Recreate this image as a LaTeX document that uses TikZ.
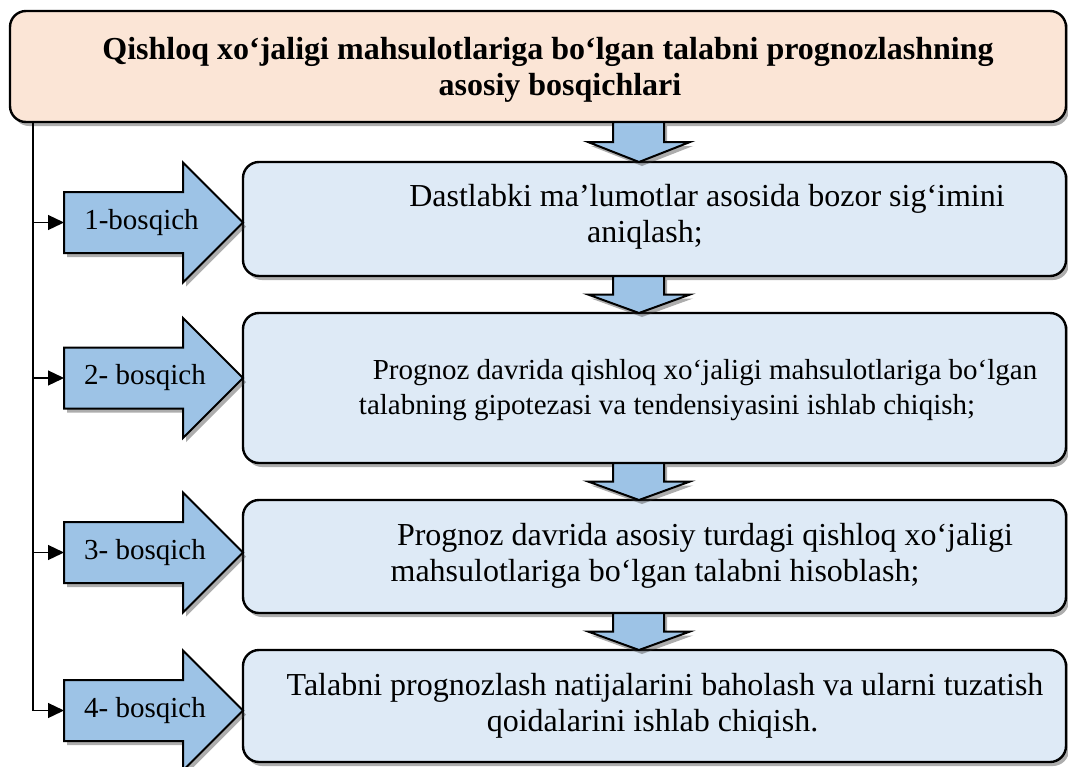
\documentclass[tikz,border=0pt]{standalone}
\usepackage{fontspec}
\setmainfont{Liberation Serif}
\usetikzlibrary{shadows,arrows.meta,calc}
\definecolor{titlefill}{HTML}{FBE5D6}
\definecolor{boxfill}{HTML}{DEEAF6}
\definecolor{arrfill}{HTML}{9DC3E6}
\tikzset{
 shad/.style={drop shadow={shadow xshift=3pt,shadow yshift=-4pt,opacity=0.4,fill=black!80}},
 box/.style={draw=black,line width=2.4pt,rounded corners=16pt,fill=boxfill,shad,inner sep=0pt,outer sep=0pt,anchor=north west,minimum width=823pt},
 titlebox/.style={box,fill=titlefill,minimum width=1056pt},
 boxtext/.style={align=center,inner sep=0pt,font=\fontsize{32}{36}\selectfont},
 stagearr/.style={draw=black,line width=2pt,fill=arrfill,line join=miter,shad},
 flowarr/.style={draw=black,line width=2pt,fill=arrfill,line join=miter,shad},
 stagetext/.style={font=\fontsize{29}{34}\selectfont,inner sep=0pt},
 spine/.style={draw=black,line width=1.3pt},
 branch/.style={spine,-{Triangle[length=16pt,width=15pt]}},
}
\newcommand\stagearrow[2]{% #1 tail coordinate name, #2 centre y
 \path[stagearr] (64,{#2-30.5}) -- (183,{#2-30.5}) -- (183,{#2-60}) -- (243,#2) -- (183,{#2+60}) -- (183,{#2+30.5}) -- (64,{#2+30.5}) -- cycle;
 \coordinate (#1) at (64,#2);
}
\newcommand\dnarr[2]{%
 \path[flowarr] let \p1=(#1.south), \p2=(#2.north) in
 (613pt,\y1) -- (664pt,\y1) -- (664pt,{(\y1+\y2)/2}) -- (690pt,{(\y1+\y2)/2}) -- (639pt,\y2) -- (588pt,{(\y1+\y2)/2}) -- (613pt,{(\y1+\y2)/2}) -- cycle;
}
\begin{document}
\begin{tikzpicture}[x=1pt,y=-1pt]
\useasboundingbox (0,0) rectangle (1068,766);
% boxes
\node[titlebox,minimum height=111pt] (title) at (10,11) {};
\node[box,minimum height=114pt] (b1) at (243,162) {};
\node[box,minimum height=150pt] (b2) at (243,313) {};
\node[box,minimum height=113pt] (b3) at (243,500) {};
\node[box,minimum height=112pt] (b4) at (243,650) {};
% down arrows
\dnarr{title}{b1}
\dnarr{b1}{b2}
\dnarr{b2}{b3}
\dnarr{b3}{b4}
% stage arrows
\stagearrow{a1}{222.5}
\stagearrow{a2}{378}
\stagearrow{a3}{552.5}
\stagearrow{a4}{710.5}
% spine and branches
\draw[spine] (33,0 |- title.south) -- (33,0 |- a4);
\draw[branch] (33,0 |- a1) -- (a1);
\draw[branch] (33,0 |- a2) -- (a2);
\draw[branch] (33,0 |- a3) -- (a3);
\draw[branch] (33,0 |- a4) -- (a4);
% stage labels
\node[stagetext] (s1) at (141.5,222.5) {1-bosqich};
\node[stagetext] (s2) at (145,378) {2- bosqich};
\node[stagetext] (s3) at (145,552.5) {3- bosqich};
\node[stagetext] (s4) at (145,710.5) {4- bosqich};
% texts
\node[boxtext,font=\fontsize{32}{36}\bfseries\selectfont] (tt) at (548,70) {Qishloq xo‘jaligi mahsulotlariga bo‘lgan talabni prognozlashning\\\hspace*{24pt}asosiy bosqichlari};
\node[boxtext] (t1) at (645,217) {\hspace*{124pt}Dastlabki ma’lumotlar asosida bozor sig‘imini\\aniqlash;};
\node[boxtext,font=\fontsize{29}{35}\selectfont] (t2) at (667,390) {\hspace*{76pt}Prognoz davrida qishloq xo‘jaligi mahsulotlariga bo‘lgan\\talabning gipotezasi va tendensiyasini ishlab chiqish;};
\node[boxtext] (t3) at (655,556) {\hspace*{100pt}Prognoz davrida asosiy turdagi qishloq xo‘jaligi\\mahsulotlariga bo‘lgan talabni hisoblash;};
\node[boxtext] (t4) at (652.5,706) {\hspace*{25pt}Talabni prognozlash natijalarini baholash va ularni tuzatish\\qoidalarini ishlab chiqish.};
\end{tikzpicture}
\end{document}
